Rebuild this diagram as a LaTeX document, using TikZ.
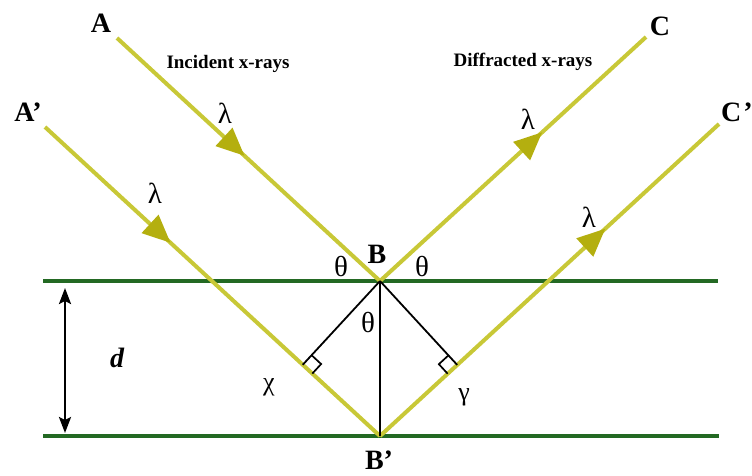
\documentclass[tikz,border=0pt]{standalone}
\usepackage{fontspec}
\setmainfont{Liberation Serif}
\usetikzlibrary{calc,arrows.meta,decorations.markings}
\definecolor{raycol}{RGB}{200,200,55}
\definecolor{rayhead}{RGB}{180,175,15}
\definecolor{planecol}{RGB}{35,105,35}
\begin{document}
\begin{tikzpicture}[x=1pt,y=-1pt,
  raypath/.style={draw=raycol,line width=4pt},
  planeline/.style={draw=planecol,line width=3.8pt},
  construct/.style={draw=black,line width=1.8pt},
  ptlabel/.style={font=\fontsize{28}{28}\selectfont\bfseries,inner sep=0pt},
  headtext/.style={font=\fontsize{19}{19}\selectfont\bfseries,inner sep=0pt},
  lam/.style={font=\fontsize{29}{29}\selectfont,inner sep=0pt},
  ang/.style={font=\fontsize{29}{29}\selectfont,inner sep=0pt},
  greek/.style={font=\fontsize{26}{26}\selectfont,inner sep=0pt},
  headmark/.style={postaction={decorate},decoration={markings,
     mark=at position #1 with {\arrow{Triangle[length=28pt,width=24pt,color=rayhead,fill=rayhead]}}}}
]
\useasboundingbox (0,0) rectangle (752,475);
% points
\coordinate (A) at (117,38);
\coordinate (Ap) at (45,127);
\coordinate (C) at (646,37);
\coordinate (Cp) at (719,124);
\coordinate (B) at (380,281);
\coordinate (Bp) at (380,436);
\coordinate (L1) at (43,281);
\coordinate (R1) at (718,281);
\coordinate (L2) at (43,436);
\coordinate (R2) at (719,436);
\coordinate (X) at ($(Bp)!(B)!(Ap)$);
\coordinate (Y) at ($(Bp)!(B)!(Cp)$);
\coordinate (dtop) at (65,288);
\coordinate (dbot) at (65,433);

% planes
\draw[planeline] (L1) -- (R1);
\draw[planeline] (L2) -- (R2);

% rays
\draw[raypath,headmark=0.485] (A) -- (B);
\draw[raypath,headmark=0.375] (Ap) -- (Bp);
\draw[raypath,headmark=0.61] (B) -- (C);
\draw[raypath,headmark=0.665] (Bp) -- (Cp);

% construction lines
\draw[construct] (B) -- (Bp);
\draw[construct] (B) -- (X);
\draw[construct] (B) -- (Y);
\coordinate (X1) at ($(X)!13pt!(B)$);
\coordinate (X2) at ($(X)!13pt!(Bp)$);
\draw[construct,line width=1.7pt] (X1) -- ($(X1)+(X2)-(X)$) -- (X2);
\coordinate (Y1) at ($(Y)!13pt!(B)$);
\coordinate (Y2) at ($(Y)!13pt!(Bp)$);
\draw[construct,line width=1.7pt] (Y1) -- ($(Y1)+(Y2)-(Y)$) -- (Y2);

% spacing arrow
\draw[line width=2.4pt,{Stealth[length=16pt,width=12pt,inset=3pt]}-{Stealth[length=16pt,width=12pt,inset=3pt]}] (dtop) -- (dbot);

% labels
\node[ptlabel] (lA) at (101,23) {A};
\node[ptlabel] (lAp) at (28,112) {A’};
\node[ptlabel] (lC) at (660,26) {C};
\node[ptlabel] (lCp) at (737,112) {C\kern2pt’};
\node[ptlabel] (lB) at (377,254) {B};
\node[ptlabel] (lBp) at (379,460) {B’};
\node[headtext] (inc) at (228,64) {Incident x-rays};
\node[headtext] (dif) at (523,62) {Diffracted x-rays};
\node[lam] (lam1) at (225,113) {λ};
\node[lam] (lam2) at (155,193) {λ};
\node[lam] (lam3) at (528,119) {λ};
\node[lam] (lam4) at (589,217) {λ};
\node[ang] (t1) at (341,266) {θ};
\node[ang] (t2) at (422,266) {θ};
\node[ang] (t3) at (368,322) {θ};
\node[greek] (gx) at (269,387) {χ};
\node[greek] (gy) at (464,397) {γ};
\node[font=\fontsize{28}{28}\selectfont\bfseries\itshape,inner sep=0pt] (dl) at (117,358) {d};
\end{tikzpicture}
\end{document}
